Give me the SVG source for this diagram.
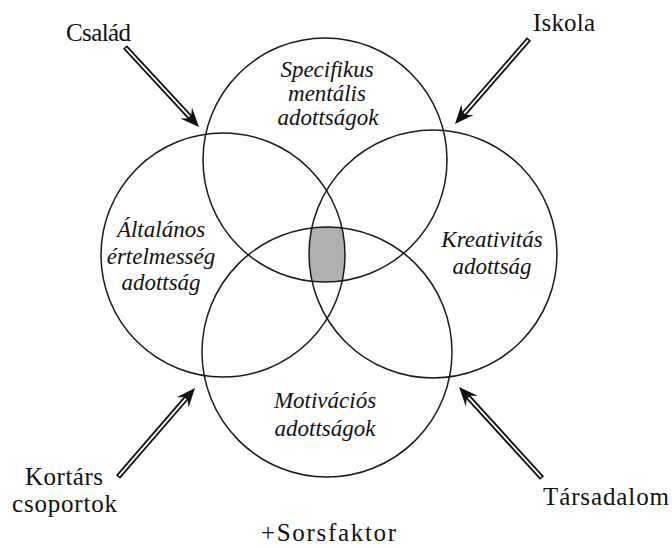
<svg xmlns="http://www.w3.org/2000/svg" width="672" height="548" viewBox="0 0 672 548">
<style>
.ring{fill:none;stroke:#1a1a1a;stroke-width:1.5}
.lbl{font-family:"Liberation Serif","Times New Roman",serif;font-size:25px;fill:#111}
.it{font-family:"Liberation Serif","Times New Roman",serif;font-style:italic;font-size:23px;fill:#111;text-anchor:middle}
.sh{stroke:#111;stroke-width:5.5;fill:none}
.sw{stroke:#fff;stroke-width:1.8;fill:none}
.hd{fill:#111}
</style>
<defs>
<clipPath id="cT"><circle cx="325" cy="160" r="122"/></clipPath>
<clipPath id="cB"><circle cx="327" cy="352" r="125"/></clipPath>
<clipPath id="cL"><circle cx="223" cy="255" r="122"/></clipPath>
<clipPath id="cR"><circle cx="433" cy="254" r="124"/></clipPath>
</defs>
<rect width="672" height="548" fill="#fff"/>
<g id="overlap">
<g clip-path="url(#cT)"><g clip-path="url(#cB)"><g clip-path="url(#cL)"><rect x="290" y="210" width="80" height="90" fill="#b0b0b0" clip-path="url(#cR)"/></g></g></g>
</g>
<g id="node-top"><circle class="ring" cx="325" cy="160" r="122"/>
<text class="it" x="327" y="77">Specifikus</text><text class="it" x="327" y="101">mentális</text><text class="it" x="328" y="125">adottságok</text></g>
<g id="node-left"><circle class="ring" cx="223" cy="255" r="122"/>
<text class="it" x="161" y="237">Általános</text><text class="it" x="161" y="264">értelmesség</text><text class="it" x="161" y="290">adottság</text></g>
<g id="node-right"><circle class="ring" cx="433" cy="254" r="124"/>
<text class="it" x="492" y="247">Kreativitás</text><text class="it" x="492" y="274">adottság</text></g>
<g id="node-bottom"><circle class="ring" cx="327" cy="352" r="125"/>
<text class="it" x="325" y="408">Motivációs</text><text class="it" x="325" y="436">adottságok</text></g>
<g id="connectors">
<g><line class="sh" x1="125" y1="47" x2="190.85" y2="118.19"/><line class="sw" x1="126" y1="48.1" x2="189.49" y2="116.72"/><polygon class="hd" points="199,127 180.23,118.48 190.85,118.19 191.97,107.62"/></g>
<g><line class="sh" x1="529" y1="39" x2="462.9" y2="114.95"/><line class="sw" x1="528" y1="40.1" x2="464.2" y2="113.4"/><polygon class="hd" points="455,124 461.4,104.4 462.9,114.95 473.5,114.9"/></g>
<g><line class="sh" x1="118" y1="477" x2="187.15" y2="397.07"/><line class="sw" x1="118.98" y1="475.87" x2="185.84" y2="398.59"/><polygon class="hd" points="195,388 188.62,407.6 187.15,397.07 176.52,397.14"/></g>
<g><line class="sh" x1="542" y1="478" x2="467.08" y2="395.86"/><line class="sw" x1="540.99" y1="476.89" x2="468.43" y2="397.34"/><polygon class="hd" points="459,387 477.71,395.64 467.08,395.86 465.89,406.42"/></g>
</g>
<g id="labels">
<text class="lbl" x="66" y="41" textLength="65">Család</text>
<text class="lbl" x="533" y="31" textLength="62">Iskola</text>
<text class="lbl" x="25" y="485" textLength="78">Kortárs</text>
<text class="lbl" x="12" y="512" textLength="105">csoportok</text>
<text class="lbl" x="543" y="505" textLength="126">Társadalom</text>
<text class="lbl" x="261" y="541" textLength="135">+Sorsfaktor</text>
</g>
</svg>
